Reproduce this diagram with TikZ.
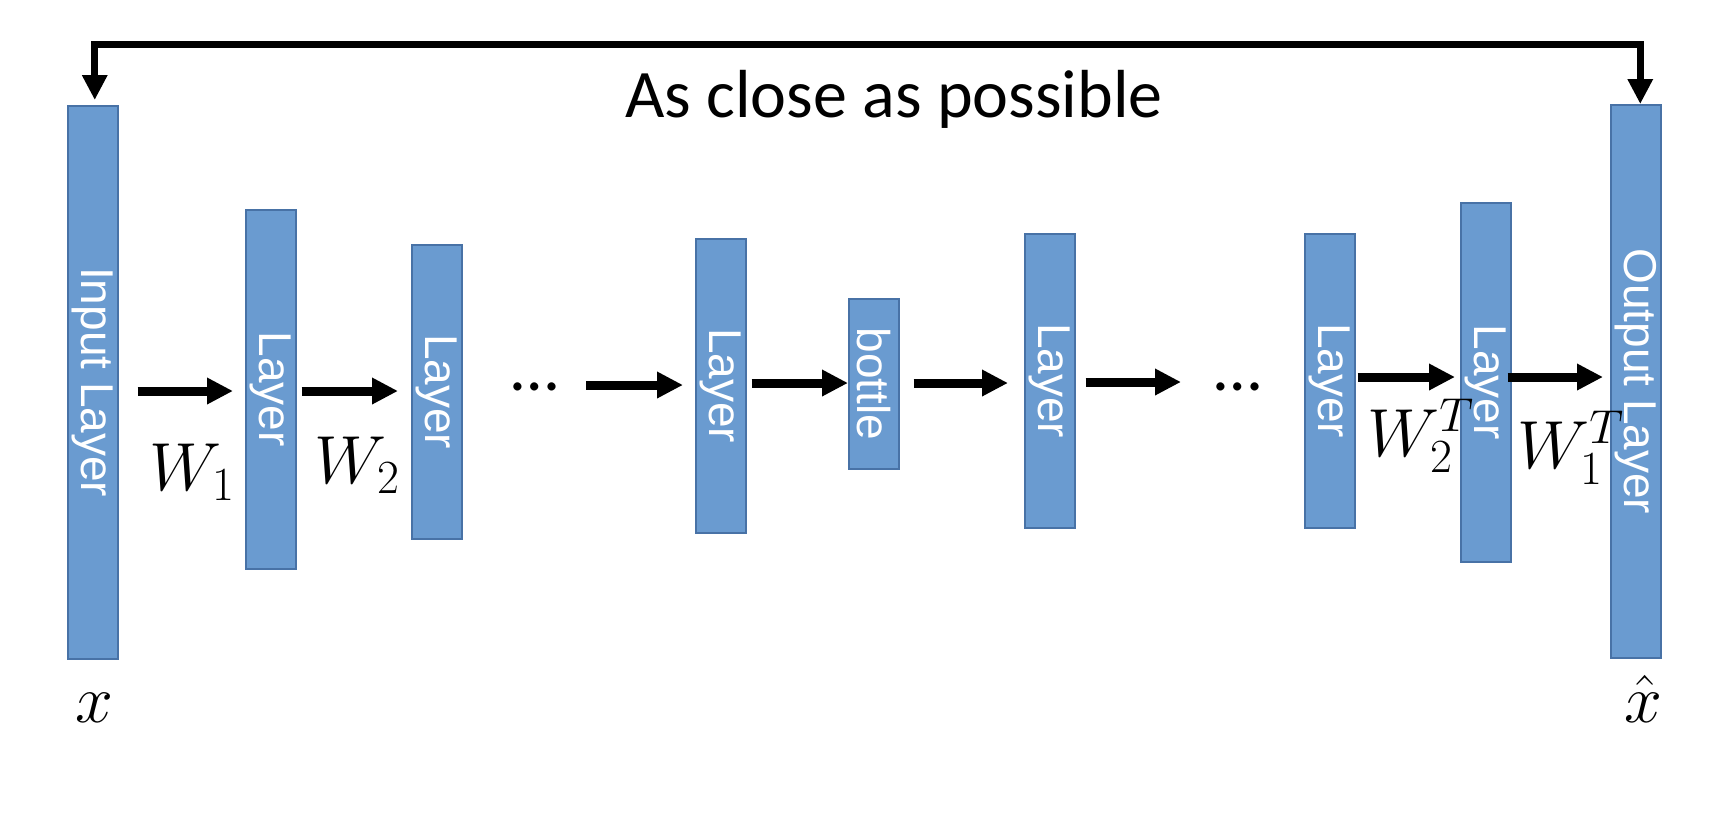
\RequirePackage{fix-cm}
\documentclass[tikz,border=0pt]{standalone}
\usepackage{fontspec}
\usetikzlibrary{arrows.meta,calc}
\newfontfamily\boxfont{Liberation Sans}
\newfontfamily\titlefont{Carlito}
\definecolor{blkfill}{RGB}{106,155,208}
\definecolor{blkdraw}{RGB}{72,114,166}
\tikzset{
  blk/.style={draw=blkdraw, fill=blkfill, line width=1.5pt, inner sep=0pt,
    minimum width=50pt, anchor=north west, text=white,
    font=\boxfont\fontsize{46}{50}\selectfont},
  arr/.style={line width=9pt, -{Triangle[width=25pt,length=26pt]}},
  loopc/.style={line width=7pt, line join=miter,
    {Triangle[width=24pt,length=25pt]}-{Triangle[width=24pt,length=25pt]}},
  mlab/.style={anchor=base west, inner sep=0pt, font=\fontsize{68}{80}\selectfont},
  ttl/.style={anchor=base, inner sep=0pt, font=\titlefont\fontsize{68}{80}\selectfont},
  dts/.style={anchor=base west, inner sep=0pt, font=\titlefont\fontsize{68}{80}\selectfont},
}
\begin{document}
\begin{tikzpicture}[x=1pt,y=-1pt]
\useasboundingbox (0,0) rectangle (1720,820);
% blocks
\node[blk, minimum height=553pt] (in) at (67,105) {\rotatebox{-90}{Input Layer}};
\node[blk, minimum height=359pt] (L1) at (245,209) {\rotatebox{-90}{Layer}};
\node[blk, minimum height=294pt] (L2) at (411,244) {\rotatebox{-90}{Layer}};
\node[blk, minimum height=294pt] (L3) at (695,238) {\rotatebox{-90}{Layer}};
\node[blk, minimum height=170pt] (bt) at (848,298) {\rotatebox{-90}{bottle}};
\node[blk, minimum height=294pt] (L4) at (1024,233) {\rotatebox{-90}{Layer}};
\node[blk, minimum height=294pt] (L5) at (1304,233) {\rotatebox{-90}{Layer}};
\node[blk, minimum height=359pt] (L6) at (1460,202) {\rotatebox{-90}{Layer}};
\node[blk, minimum height=553pt] (out) at (1610,104) {\rotatebox{-90}{Output Layer}};
% dots
\node[dts] (d1) at (511,390) {…};
\node[dts] (d2) at (1214,390) {…};
% free ends
\coordinate (s3) at (586,385);
\coordinate (e6) at (1181,382);
% arrows
\draw[arr] ($(in.east |- 0,391)+(19,0)$) -- ($(L1.west |- 0,391)+(-12,0)$);
\draw[arr] ($(L1.east |- 0,391)+(5,0)$) -- ($(L2.west |- 0,391)+(-13,0)$);
\draw[arr] (s3) -- ($(L3.west |- s3)+(-12,0)$);
\draw[arr] ($(L3.east |- 0,383)+(5,0)$) -- (bt.west |- 0,383);
\draw[arr] ($(bt.east |- 0,383)+(14,0)$) -- ($(L4.west |- 0,383)+(-16,0)$);
\draw[arr] ($(L4.east |- e6)+(10,0)$) -- (e6);
\draw[arr] ($(L5.east |- 0,377)+(2,0)$) -- ($(L6.west |- 0,377)+(-5,0)$);
\draw[arr] ($(L6.east |- 0,377)+(-4,0)$) -- ($(out.west |- 0,377)+(-7,0)$);
% feedback loop
\draw[loopc] ($(in.north)+(2,-5)$) -- ($(in.north |- 0,44)+(2,0)$) -| ($(out.north)+(4.5,0)$);
\node[ttl] (title) at (894,117) {As close as possible};
% math labels
\node[mlab] (w1) at (149,490) {$W_1$};
\node[mlab] (w2) at (314,483) {$W_2$};
\node[mlab] (w2t) at (1367,456) {$W_2^T$};
\node[mlab] (w1t) at (1517,468) {$W_1^T$};
\node[mlab] (xin) at (75,722) {$x$};
\node[mlab] (xout) at (1624,722) {$\hat{x}$};
\end{tikzpicture}
\end{document}
